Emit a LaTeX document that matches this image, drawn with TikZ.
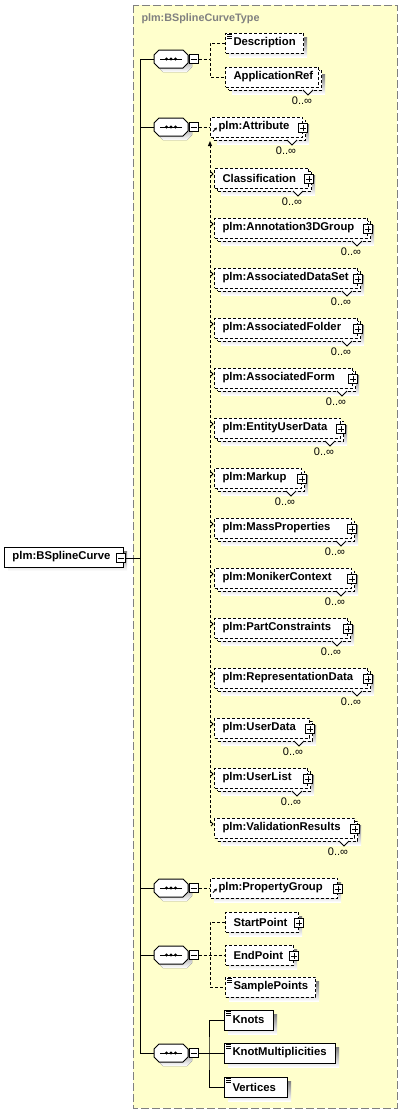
\documentclass[tikz,border=0pt]{standalone}
\usepackage{fontspec}
\setmainfont{Liberation Sans}
\usetikzlibrary{arrows.meta}
\definecolor{groupfill}{RGB}{255,255,204}
\definecolor{shade}{RGB}{192,192,192}
\definecolor{titlegray}{RGB}{128,128,128}
\tikzset{
  dsh/.style={dash pattern=on 3pt off 2pt},
  groupborder/.style={draw=titlegray, line width=1pt, dash pattern=on 8pt off 3pt, fill=groupfill},
  box/.style={draw, fill=white, line width=1pt, minimum height=20pt, anchor=west,
    inner xsep=8pt, inner ysep=0pt, align=left, font=\fontsize{11.3}{13}\selectfont\bfseries},
  optbox/.style={box, dsh},
  reqbox/.style={box, solid},
  mbox/.style={draw, solid, fill=white, line width=1pt, minimum width=9pt, minimum height=9pt, inner sep=0pt},
  seqnode/.style={minimum width=34pt, minimum height=18pt, inner sep=0pt},
  occ/.style={font=\fontsize{11}{13}\selectfont, inner sep=0pt},
  thinline/.style={solid, line width=0.8pt},
  titlestyle/.style={anchor=west, inner sep=0pt, text=titlegray, font=\fontsize{10.8}{12}\selectfont\bfseries},
}
\newcommand\elbox[6]{%
  \fill[shade] (#2+4,#3-6) rectangle (#4+4,#3+14);
  \pgfmathsetmacro\bw{#4-(#2)}\pgfmathsetmacro\tw{#4-(#2)-16}%
  \node[#5, minimum width=\bw pt, text width=\tw pt] (#1) at (#2,#3) {\makebox[0pt][l]{#6}};}
\newcommand\melbox[6]{%
  \fill[shade] (#2+7,#3-3) rectangle (#4+7,#3+17);
  \pgfmathsetmacro\bw{#4-(#2)}\pgfmathsetmacro\tw{#4-(#2)-16}%
  \node[#5, minimum width=\bw pt, text width=\tw pt] (#1-b) at (#2+3,#3+3) {};
  \node[#5, minimum width=\bw pt, text width=\tw pt] (#1) at (#2,#3) {\makebox[0pt][l]{#6}};
  \draw[thinline, fill=white] (#4-15,#3+13) -- (#4-10,#3+18) -- (#4-5,#3+13);
  \node[occ] (#1-o) at (#4-16,#3+24) {0..∞};}
\newcommand\plusmark[1]{%
  \node[mbox] (#1-p) at ([yshift=-1pt]#1.east) {};
  \draw[thinline] ([xshift=-3pt]#1-p.center) -- ([xshift=3pt]#1-p.center)
                  ([yshift=-3pt]#1-p.center) -- ([yshift=3pt]#1-p.center);}
\newcommand\iconmark[1]{%
  \draw[line width=0.7pt, solid] ([shift={(2pt,-2pt)}]#1.north west) -- ++(5,0)
    ([shift={(2pt,-4pt)}]#1.north west) -- ++(5,0)
    ([shift={(2pt,-6pt)}]#1.north west) -- ++(5,0);}
\newcommand\refmark[1]{%
  \draw[thinline, -{Stealth[length=3pt,width=3pt]}] ([shift={(3pt,-15pt)}]#1.north west) -- ++(4,-4);}
\newcommand\tickmark[1]{%
  \draw[thinline] ([shift={(-3pt,6pt)}]#1.west) -- ([shift={(-1pt,4pt)}]#1.west) -- ([shift={(-3pt,2pt)}]#1.west);}
\newcommand\seqgrp[2]{%
  \fill[shade] (175-12,#2+4-9) -- (175+12,#2+4-9) -- (175+17,#2+4-4) -- (175+17,#2+4+4) -- (175+12,#2+4+9)
     -- (175-12,#2+4+9) -- (175-17,#2+4+4) -- (175-17,#2+4-4) -- cycle;
  \node[seqnode] (#1) at (171,#2) {};
  \draw[fill=white] (171-12,#2-9) -- (171+12,#2-9) -- (171+17,#2-4) -- (171+17,#2+4) -- (171+12,#2+9)
     -- (171-12,#2+9) -- (171-17,#2+4) -- (171-17,#2-4) -- cycle;
  \draw[line width=1pt] (160,#2) -- (182,#2);
  \fill (166.5,#2) circle (1.7) (171,#2) circle (1.7) (175.5,#2) circle (1.7);
  \node[mbox] (#1-m) at (193.5,#2) {};
  \draw[thinline] ([xshift=-3pt]#1-m.center) -- ([xshift=3pt]#1-m.center);}
\begin{document}
\begin{tikzpicture}[x=1pt,y=-1pt,line width=1pt]
\useasboundingbox (0,0) rectangle (402,1114);
\draw[groupborder] (133,5) rectangle (397,1108);
\node[titlestyle] (title) at (141,19) {plm:BSplineCurveType};

% root
\fill[shade] (8,551) rectangle (127,571);
\node[reqbox, minimum width=119pt, text width=103pt] (root) at (4,557) {\makebox[0pt][l]{plm:BSplineCurve}};
\node[mbox] (root-m) at (121,558) {};
\draw[thinline] ([xshift=-3pt]root-m.center) -- ([xshift=3pt]root-m.center);

% trunk
\coordinate (rootT) at (140,558);
\coordinate (t1) at (140,59);
\coordinate (t2) at (140,127);
\coordinate (t3) at (140,888);
\coordinate (t4) at (140,955);
\coordinate (t5) at (140,1053);
\draw (root-m.east) -- (rootT);
\draw (t1) -- (t5);

\seqgrp{q1}{59}
\seqgrp{q2}{127}
\seqgrp{q3}{888}
\seqgrp{q4}{955}
\seqgrp{q5}{1053}
\draw (t1) -- (q1.west);
\draw (t2) -- (q2.west);
\draw (t3) -- (q3.west);
\draw (t4) -- (q4.west);
\draw (t5) -- (q5.west);

% group 1
\elbox{desc}{225}{43}{303}{optbox}{Description}
\iconmark{desc}
\melbox{appref}{225}{77}{318}{optbox}{ApplicationRef}
\coordinate (b1) at (210,59);
\draw[dsh] (q1-m.east) -- (b1);
\draw[dsh] (desc.west) -| (b1) |- (appref.west);

% group 2 (substitution group)
\coordinate (chEnd) at (210,823);
\coordinate (chTop) at (210,141);
\draw[dsh, -{Triangle[length=5pt,width=4pt]}] (chEnd) -- (chTop);
\melbox{attr}{210}{127}{302}{optbox}{plm:Attribute}
\plusmark{attr}
\refmark{attr}
\draw[dsh] (q2-m.east) -- (attr.west);

\melbox{cls}{214}{178}{308}{optbox}{Classification}
\melbox{ann}{214}{228}{367}{optbox}{plm:Annotation3DGroup}
\melbox{ads}{214}{278}{357}{optbox}{plm:AssociatedDataSet}
\melbox{afo}{214}{328}{357}{optbox}{plm:AssociatedFolder}
\melbox{afm}{214}{378}{352}{optbox}{plm:AssociatedForm}
\melbox{eud}{214}{428}{340}{optbox}{plm:EntityUserData}
\melbox{mku}{214}{478}{301}{optbox}{plm:Markup}
\melbox{mpr}{214}{528}{351}{optbox}{plm:MassProperties}
\melbox{mon}{214}{578}{351}{optbox}{plm:MonikerContext}
\melbox{pcs}{214}{628}{347}{optbox}{plm:PartConstraints}
\melbox{rep}{214}{678}{367}{optbox}{plm:RepresentationData}
\melbox{usd}{214}{728}{309}{optbox}{plm:UserData}
\melbox{usl}{214}{778}{307}{optbox}{plm:UserList}
\melbox{val}{214}{828}{354}{optbox}{plm:ValidationResults}
\foreach \n in {cls,ann,ads,afo,afm,eud,mku,mpr,mon,pcs,rep,usd,usl,val}{\plusmark{\n}\tickmark{\n}}

% group 3
\elbox{pgrp}{210}{888}{337}{optbox}{plm:PropertyGroup}
\plusmark{pgrp}
\refmark{pgrp}
\draw[dsh] (q3-m.east) -- (pgrp.west);

% group 4
\elbox{startp}{225}{922}{298}{optbox}{StartPoint}
\plusmark{startp}
\elbox{endp}{225}{955}{293}{optbox}{EndPoint}
\plusmark{endp}
\elbox{sample}{225}{987}{315}{optbox}{SamplePoints}
\iconmark{sample}
\coordinate (b4) at (210,955);
\draw[dsh] (q4-m.east) -- (b4) -- (endp.west);
\draw[dsh] (startp.west) -| (b4) |- (sample.west);

% group 5
\elbox{knots}{224}{1020}{273}{reqbox}{Knots}
\iconmark{knots}
\elbox{kmul}{224}{1053}{335}{reqbox}{KnotMultiplicities}
\iconmark{kmul}
\elbox{vert}{224}{1087}{287}{reqbox}{Vertices}
\iconmark{vert}
\coordinate (b5) at (209,1053);
\draw (q5-m.east) -- (b5) -- (kmul.west);
\draw (knots.west) -| (b5) |- (vert.west);
\end{tikzpicture}
\end{document}
